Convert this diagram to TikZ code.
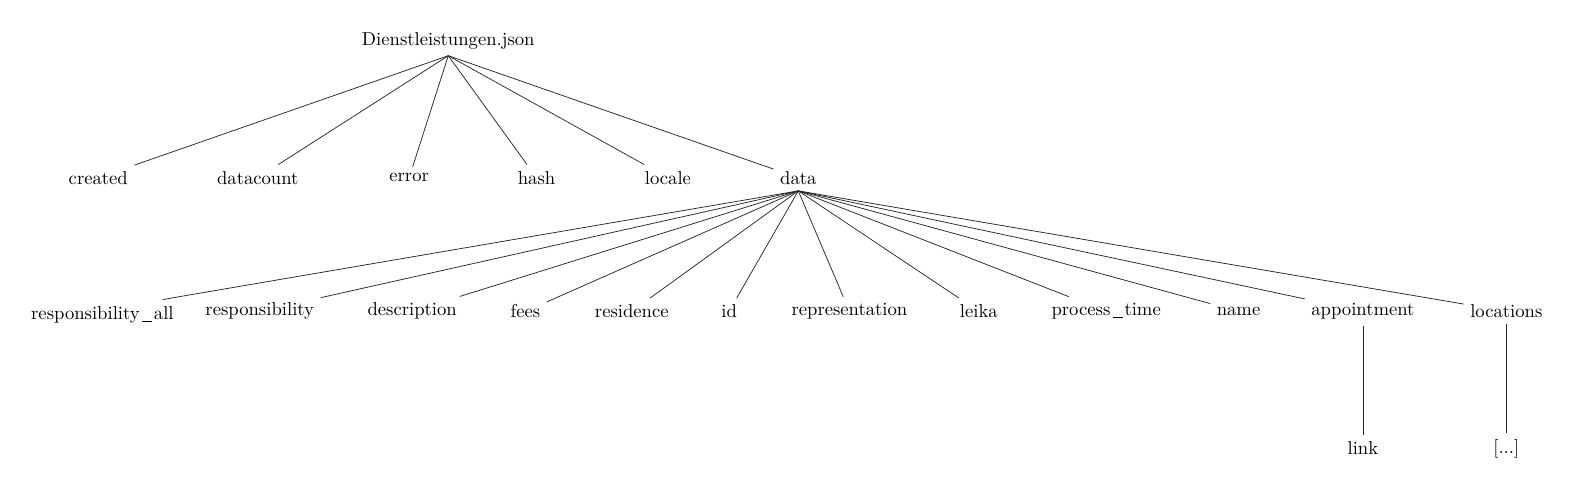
\documentclass[tikz,border=0pt]{standalone}
\newcommand\lowbar{\kern1.4pt\rule[-1.4pt]{5.2pt}{0.45pt}\kern1pt}
\begin{document}
\begin{tikzpicture}[x=0.5376pt,y=-0.5376pt,
  tn/.style={inner sep=0.3333em},
  edge/.style={draw=black!85,line width=0.4pt}]
\useasboundingbox (0,0) rectangle (1567.5,486.6);
% level 0
\node[tn] (root) at (447,40.6) {Dienstleistungen.json};
% level 1
\node[tn] (created) at (98,177.2) {created};
\node[tn] (datacount) at (257,177.2) {datacount};
\node[tn] (error) at (408,177.2) {error};
\node[tn] (hash) at (535,177.2) {hash};
\node[tn] (locale) at (666,177.2) {locale};
\node[tn] (data) at (796,177.2) {data};
% level 2
\node[tn] (rall) at (93.4,310.4) {\makebox[67pt][l]{\raisebox{-2pt}[6.94pt][1.94pt]{responsibility\lowbar all}}};
\node[tn] (resp) at (259,310.4) {responsibility};
\node[tn] (desc) at (411,310.4) {description};
\node[tn] (fees) at (524,310.4) {fees};
\node[tn] (resid) at (630,310.4) {residence};
\node[tn] (id) at (727,310.4) {id};
\node[tn] (repr) at (847,310.4) {representation};
\node[tn] (leika) at (976,310.4) {leika};
\node[tn] (ptime) at (1103,310.4) {process\lowbar time};
\node[tn] (name) at (1235,310.4) {name};
\node[tn] (appt) at (1359,310.4) {appointment};
\node[tn] (locs) at (1502,310.4) {locations};
% level 3
\node[tn] (link) at (1359,447.2) {link};
\node[tn] (dots) at (1502,447.2) {[...]};
% edges
\foreach \c in {created,datacount,error,hash,locale,data}
  \draw[edge] (root.south) -- (\c);
\foreach \c in {rall,resp,desc,fees,resid,id,repr,leika,ptime,name,appt,locs}
  \draw[edge] (data.south) -- (\c);
\draw[edge] (appt.south) -- (link);
\draw[edge] (locs.south) -- (dots);
\end{tikzpicture}
\end{document}
